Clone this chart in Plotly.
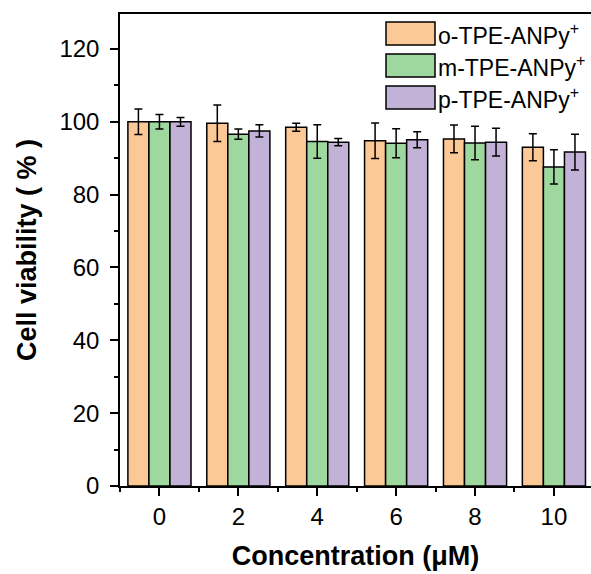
import plotly.graph_objects as go

categories = ["0", "2", "4", "6", "8", "10"]
series_names = ["o-TPE-ANPy<sup>+</sup>", "m-TPE-ANPy<sup>+</sup>", "p-TPE-ANPy<sup>+</sup>"]
o_vals = [100.0, 99.6, 98.5, 94.8, 95.3, 93.0]
o_err = [3.5, 5.0, 1.1, 4.9, 3.8, 3.7]
m_vals = [100.0, 96.6, 94.6, 94.1, 94.2, 87.6]
m_err = [2.0, 1.4, 4.6, 4.0, 4.6, 4.7]
p_vals = [100.0, 97.5, 94.4, 95.1, 94.4, 91.7]
p_err = [1.2, 1.7, 1.0, 2.2, 3.8, 4.9]
colors = ["#FCC895", "#9FD89E", "#C3B2D7"]

FONT = "Arial, Liberation Sans, sans-serif"
xidx = list(range(len(categories)))

fig = go.Figure()
for name, vals, errs, col in zip(series_names, [o_vals, m_vals, p_vals], [o_err, m_err, p_err], colors):
    fig.add_trace(go.Bar(
        x=xidx, y=vals, name=name,
        marker=dict(color=col, line=dict(color="black", width=1.5)),
        error_y=dict(type="data", array=errs, visible=True, color="black", thickness=1.5, width=4),
        showlegend=False,
    ))

# Manual legend (large swatches like the reference)
legend_top = 22
for i, (name, col) in enumerate(zip(series_names, colors)):
    y0 = legend_top + i * 32
    fig.add_shape(type="rect", xref="paper", yref="paper",
                  x0=(386 - 120) / 471, x1=(435 - 120) / 471,
                  y0=1 - (y0 + 23 - 14) / 472, y1=1 - (y0 - 14) / 472,
                  fillcolor=col, line=dict(color="black", width=1.5))
    fig.add_annotation(xref="paper", yref="paper",
                       x=(436 - 120) / 471, y=1 - (y0 + 11.5 - 14) / 472,
                       text=name, showarrow=False, xanchor="left", yanchor="middle",
                       font=dict(family=FONT, size=23, color="black"))

fig.update_layout(
    width=591, height=574,
    margin=dict(l=120, r=0, t=14, b=88),
    paper_bgcolor="white", plot_bgcolor="white",
    barmode="group", bargap=0.2, bargroupgap=0,
    font=dict(family=FONT, color="black", size=23),
    xaxis=dict(
        range=[-0.5, 5.47],
        tickmode="array", tickvals=xidx, ticktext=categories,
        ticks="outside", ticklen=8, tickwidth=1.5, tickcolor="black",
        minor=dict(tickmode="linear", tick0=0.5, dtick=1, ticks="outside", ticklen=4, tickwidth=1.5, tickcolor="black"),
        showline=True, linecolor="black", linewidth=1.5, mirror=True,
        showgrid=False, zeroline=False,
        tickfont=dict(family=FONT, size=24, color="black"),
        ticklabelstandoff=0,
        title=dict(text="<b>Concentration (μM)</b>", font=dict(family=FONT, size=27, color="black"), standoff=18),
    ),
    yaxis=dict(
        range=[0, 129.6],
        tickmode="linear", tick0=0, dtick=20,
        ticks="outside", ticklen=8, tickwidth=1.5, tickcolor="black",
        minor=dict(tickmode="linear", tick0=10, dtick=20, ticks="outside", ticklen=4, tickwidth=1.5, tickcolor="black"),
        showline=True, linecolor="black", linewidth=1.5, mirror=False,
        showgrid=False, zeroline=False,
        tickfont=dict(family=FONT, size=24, color="black"),
        ticklabelstandoff=6,
        title=dict(text="<b>Cell viability ( % )</b>", font=dict(family=FONT, size=27, color="black"), standoff=15),
    ),
)

fig.write_html("out.html", config={"displayModeBar": False},
               post_script="document.body.style.margin='0';document.body.style.overflow='hidden';")
